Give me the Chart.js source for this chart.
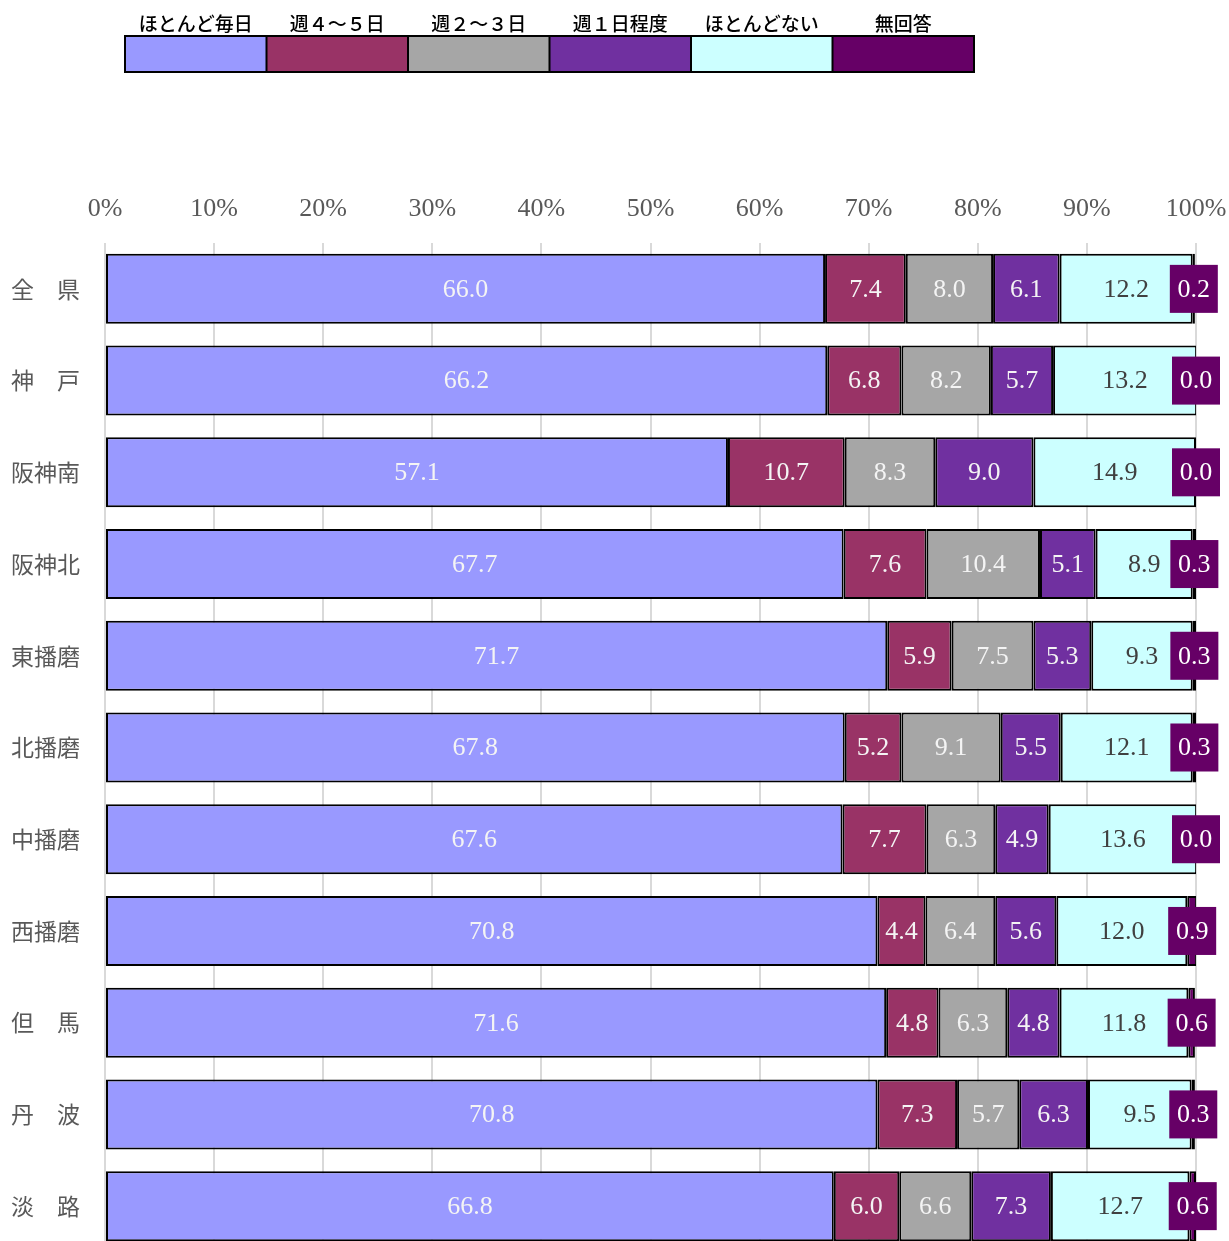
<!DOCTYPE html>
<html lang="ja">
<head>
<meta charset="utf-8">
<title>地域別 頻度</title>
<script src="https://cdn.jsdelivr.net/npm/chart.js@4.4.1/dist/chart.umd.min.js"></script>
<style>
  html, body { margin: 0; padding: 0; background: #fff; overflow: hidden; }
  #freqChart { display: block; }
</style>
</head>
<body>
<canvas id="freqChart" width="1229" height="1252"></canvas>
<script>
// 地域
const areas = ['全　県', '神　戸', '阪神南', '阪神北', '東播磨', '北播磨', '中播磨', '西播磨', '但　馬', '丹　波', '淡　路'];
// 回答区分
const seriesNames = ['ほとんど毎日', '週４～５日', '週２～３日', '週１日程度', 'ほとんどない', '無回答'];
const seriesColors = ['#9999FF', '#993366', '#A6A6A6', '#7030A0', '#CCFFFF', '#660066'];

// 割合（%）
const mainichi   = [66.0, 66.2, 57.1, 67.7, 71.7, 67.8, 67.6, 70.8, 71.6, 70.8, 66.8];
const shu45      = [7.4, 6.8, 10.7, 7.6, 5.9, 5.2, 7.7, 4.4, 4.8, 7.3, 6.0];
const shu23      = [8.0, 8.2, 8.3, 10.4, 7.5, 9.1, 6.3, 6.4, 6.3, 5.7, 6.6];
const shu1       = [6.1, 5.7, 9.0, 5.1, 5.3, 5.5, 4.9, 5.6, 4.8, 6.3, 7.3];
const hotondonai = [12.2, 13.2, 14.9, 8.9, 9.3, 12.1, 13.6, 12.0, 11.8, 9.5, 12.7];
const mukaitou   = [0.2, 0.0, 0.0, 0.3, 0.3, 0.3, 0.0, 0.9, 0.6, 0.3, 0.6];

// 目盛り
const pctTicks = [0, 10, 20, 30, 40, 50, 60, 70, 80, 90, 100];

const seriesValues = [mainichi, shu45, shu23, shu1, hotondonai, mukaitou];
const labelColors = ['#F4F4F4', '#F4F4F4', '#F4F4F4', '#F4F4F4', '#404040', '#FFFFFF'];

const datasets = seriesNames.map(function (name, i) {
  return {
    label: name,
    data: seriesValues[i],
    backgroundColor: seriesColors[i],
    borderColor: '#000000',
    borderWidth: 2,
    borderSkipped: false,
    categoryPercentage: 1.0,
    barPercentage: 0.763
  };
});

// 凡例（上部の横並びの色見本）
const legendBoxes = {
  id: 'legendBoxes',
  afterDraw(chart) {
    const ctx = chart.ctx;
    const left = 125, top = 36, w = 141.5, h = 36;
    ctx.save();
    chart.data.datasets.forEach(function (ds, i) {
      const x = left + i * w;
      ctx.fillStyle = ds.backgroundColor;
      ctx.fillRect(x, top, w, h);
      ctx.fillStyle = '#000';
      ctx.font = '500 19px "Noto Sans CJK JP", sans-serif';
      ctx.textAlign = 'center';
      ctx.textBaseline = 'middle';
      ctx.fillText(ds.label, x + w / 2, 24);
    });
    ctx.lineWidth = 2;
    ctx.strokeStyle = '#000';
    ctx.strokeRect(left, top, w * chart.data.datasets.length, h);
    for (let i = 1; i < chart.data.datasets.length; i++) {
      ctx.beginPath();
      ctx.moveTo(left + i * w, top);
      ctx.lineTo(left + i * w, top + h);
      ctx.stroke();
    }
    ctx.restore();
  }
};

// 値ラベル（無回答は右端に四角付き）
const valueLabels = {
  id: 'valueLabels',
  afterDatasetsDraw(chart) {
    const ctx = chart.ctx;
    const last = chart.data.datasets.length - 1;
    ctx.save();
    ctx.font = '26px "Liberation Serif", serif';
    ctx.textAlign = 'center';
    ctx.textBaseline = 'middle';
    chart.data.datasets.forEach(function (ds, i) {
      const meta = chart.getDatasetMeta(i);
      meta.data.forEach(function (el, j) {
        const cx = Math.min((el.x + el.base) / 2, chart.chartArea.right);
        const cy = el.y;
        if (i === last) {
          ctx.fillStyle = ds.backgroundColor;
          ctx.fillRect(cx - 24, cy - 24, 48, 48);
        }
        ctx.fillStyle = labelColors[i];
        ctx.fillText(ds.data[j].toFixed(1), cx, cy + 1);
      });
    });
    ctx.restore();
  }
};

new Chart(document.getElementById('freqChart'), {
  type: 'bar',
  data: { labels: areas, datasets: datasets },
  plugins: [legendBoxes, valueLabels],
  options: {
    indexAxis: 'y',
    responsive: false,
    animation: false,
    layout: { padding: { top: 0, left: 0, right: 33, bottom: 0 } },
    plugins: {
      legend: { display: false },
      tooltip: { enabled: false }
    },
    scales: {
      x: {
        position: 'top',
        stacked: true,
        min: 0,
        max: 100,
        afterBuildTicks(scale) {
          scale.ticks = pctTicks.map(function (v) { return { value: v }; });
        },
        afterFit(scale) {
          scale.height = 243;
          scale.paddingLeft = 0;
          scale.paddingRight = 0;
        },
        border: { display: false },
        grid: { color: '#D9D9D9', lineWidth: 2, drawTicks: false },
        ticks: {
          padding: 18,
          color: '#595959',
          font: { family: '"Liberation Serif", serif', size: 26 },
          callback: function (v) { return v + '%'; }
        }
      },
      y: {
        stacked: true,
        afterFit(scale) {
          scale.width = 105;
          scale.paddingTop = 0;
          scale.paddingBottom = 0;
        },
        border: { display: false },
        grid: { display: false },
        ticks: {
          padding: 17,
          color: '#595959',
          font: { family: '"Noto Sans CJK JP", sans-serif', size: 23 }
        }
      }
    }
  }
});
</script>
</body>
</html>
